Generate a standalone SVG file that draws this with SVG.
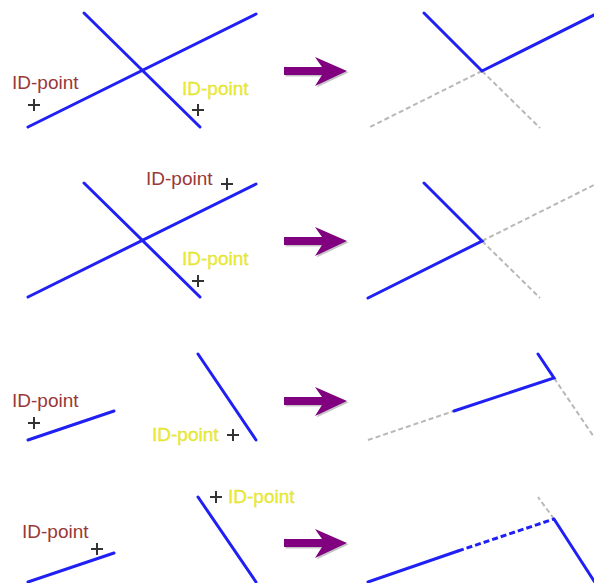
<svg xmlns="http://www.w3.org/2000/svg" width="594" height="583" viewBox="0 0 594 583">
<defs>
<style>
.blue{stroke:#2020f5;stroke-width:3;fill:none;stroke-linecap:round}
.bdash{stroke:#2020f5;stroke-width:3;fill:none;stroke-dasharray:6 3}
.gray{stroke:#b8b8b8;stroke-width:2;fill:none;stroke-dasharray:5 3}
.lbl{font-family:"Liberation Sans",Arial,sans-serif;font-size:19px}
.brown{fill:#993838}
.yellow{fill:#eeee30;stroke:#d8d830;stroke-width:0.3}
.cross{stroke:#333;stroke-width:2;fill:none}
.arrow{fill:#800080}
.ashadow{fill:#555;opacity:0.35}
</style>
<path id="cross" d="M-6,0H6M0,-6V6"/>
<g id="arr">
<polygon class="ashadow" transform="translate(1.5,1.5)" points="284,-4 322,-4 315,-14 347,0 315,15 322,4 284,4"/>
<polygon class="arrow" points="284,-4 322,-4 315,-14 347,0 315,15 322,4 284,4"/>
</g>
</defs>
<rect width="594" height="583" fill="#fff"/>

<!-- Panel 1 -->
<g id="p1-left">
<line class="blue" x1="84" y1="13" x2="200" y2="127"/>
<line class="blue" x1="28" y1="127" x2="256" y2="14"/>
<text class="lbl brown" x="12" y="89">ID-point</text>
<use href="#cross" class="cross" x="34" y="105"/>
<text class="lbl yellow" x="182" y="95">ID-point</text>
<use href="#cross" class="cross" x="198" y="110"/>
</g>
<g id="p1-arrow"><use href="#arr" y="71"/></g>
<g id="p1-right">
<line class="gray" x1="482" y1="71" x2="368" y2="128"/>
<line class="gray" x1="482" y1="71" x2="540" y2="128"/>
<polyline class="blue" points="424,13 482,71 596,14"/>
</g>

<!-- Panel 2 -->
<g id="p2-left">
<line class="blue" x1="84" y1="183" x2="200" y2="297"/>
<line class="blue" x1="28" y1="297" x2="256" y2="184"/>
<text class="lbl brown" x="146" y="185">ID-point</text>
<use href="#cross" class="cross" x="227" y="184"/>
<text class="lbl yellow" x="182" y="265">ID-point</text>
<use href="#cross" class="cross" x="198" y="281"/>
</g>
<g id="p2-arrow"><use href="#arr" y="241"/></g>
<g id="p2-right">
<line class="gray" x1="482" y1="241" x2="596" y2="184"/>
<line class="gray" x1="482" y1="241" x2="540" y2="298"/>
<polyline class="blue" points="424,183 482,241 368,298"/>
</g>

<!-- Panel 3 -->
<g id="p3-left">
<line class="blue" x1="28" y1="440" x2="114" y2="411"/>
<line class="blue" x1="198" y1="354" x2="256" y2="440"/>
<text class="lbl brown" x="12" y="407">ID-point</text>
<use href="#cross" class="cross" x="34" y="423"/>
<text class="lbl yellow" x="152" y="441">ID-point</text>
<use href="#cross" class="cross" x="233" y="435"/>
</g>
<g id="p3-arrow"><use href="#arr" y="401"/></g>
<g id="p3-right">
<line class="gray" x1="368" y1="440" x2="454" y2="411"/>
<line class="gray" x1="554" y1="378" x2="596" y2="440"/>
<polyline class="blue" points="454,411 554,378 538,354"/>
</g>

<!-- Panel 4 -->
<g id="p4-left">
<line class="blue" x1="28" y1="582" x2="114" y2="553"/>
<line class="blue" x1="198" y1="497" x2="256" y2="582"/>
<text class="lbl brown" x="22" y="538">ID-point</text>
<use href="#cross" class="cross" x="97" y="549"/>
<text class="lbl yellow" x="228" y="503">ID-point</text>
<use href="#cross" class="cross" x="216" y="497"/>
</g>
<g id="p4-arrow"><use href="#arr" y="543"/></g>
<g id="p4-right">
<line class="gray" x1="554" y1="519" x2="538" y2="497"/>
<line class="blue" x1="368" y1="582" x2="458" y2="551"/>
<line class="bdash" x1="458" y1="551" x2="554" y2="519"/>
<line class="blue" x1="554" y1="519" x2="596" y2="584"/>
</g>
</svg>
